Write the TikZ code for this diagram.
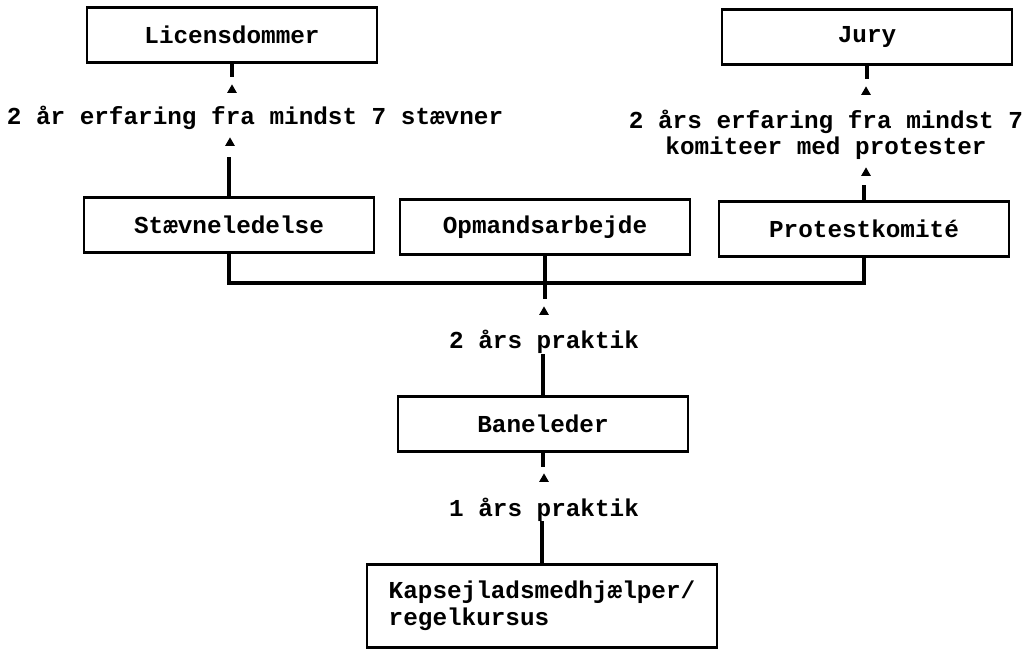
\documentclass[tikz,border=0pt]{standalone}
\usepackage{fontspec}
\setmonofont{Liberation Mono}
\usetikzlibrary{calc,shapes.geometric}
\tikzset{
  box/.style={draw,line width=1.8pt,minimum width=7.25cm,minimum height=1.375cm,inner sep=0pt,
    font=\ttfamily\bfseries\fontsize{17.3}{19.5}\selectfont},
  txt/.style={inner sep=0pt,align=center,font=\ttfamily\bfseries\fontsize{17.3}{18.5}\selectfont},
  conn/.style={line width=2.2pt},
  upmark/.style={regular polygon,regular polygon sides=3,fill,inner sep=0pt,minimum size=0.28cm}
}
\begin{document}
\begin{tikzpicture}[x=0.025cm,y=-0.025cm]
\useasboundingbox (0,0) rectangle (1029,652);
% top row
\node[box] (lic) at (232,35) {Licensdommer};
\node[box] (jury) at (867,37) {Jury};
\node[txt] (erf1) at (255,118) {2 år erfaring fra mindst 7 stævner};
\node[txt] (erf2) at (826,135) {2 års erfaring fra mindst 7\\komiteer med protester};
% middle row
\node[box] (stv) at (229,225) {Stævneledelse};
\node[box] (opm) at (545,227) {Opmandsarbejde};
\node[box] (pro) at (864,229) {Protestkomité};
\node[txt] (prk2) at (544,342) {2 års praktik};
% bottom
\node[box] (ban) at (543,424) {Baneleder};
\node[txt] (prk1) at (544,510) {1 års praktik};
\node[box,minimum width=8.75cm,minimum height=2.075cm,align=left] (kap) at (542,606) {Kapsejladsmedhjælper/\\regelkursus};
% arrowheads
\node[upmark] (a1) at (232,90) {};
\node[upmark] (a2) at (230,143) {};
\node[upmark] (a3) at (866,92) {};
\node[upmark] (a4) at (866,173) {};
\node[upmark] (a5) at (544,312) {};
\node[upmark] (a6) at (544,479) {};
% lines
\coordinate (bus) at (0,283);
\draw[conn] (lic.south) -- ++(0,13);
\draw[conn] (stv.north) -- ++(0,-39);
\draw[conn] (jury.south) -- ++(0,13);
\draw[conn] (pro.north) -- ++(0,-15);
\draw[conn] (stv.south) -- (stv.south |- bus) -- (pro.south |- bus) -- (pro.south);
\draw[conn] (opm.south) -- ++(0,43);
\draw[conn] (ban.north) -- ++(0,-41);
\draw[conn] (ban.south) -- ++(0,14);
\draw[conn] (kap.north) -- ++(0,-42);
\end{tikzpicture}
\end{document}
